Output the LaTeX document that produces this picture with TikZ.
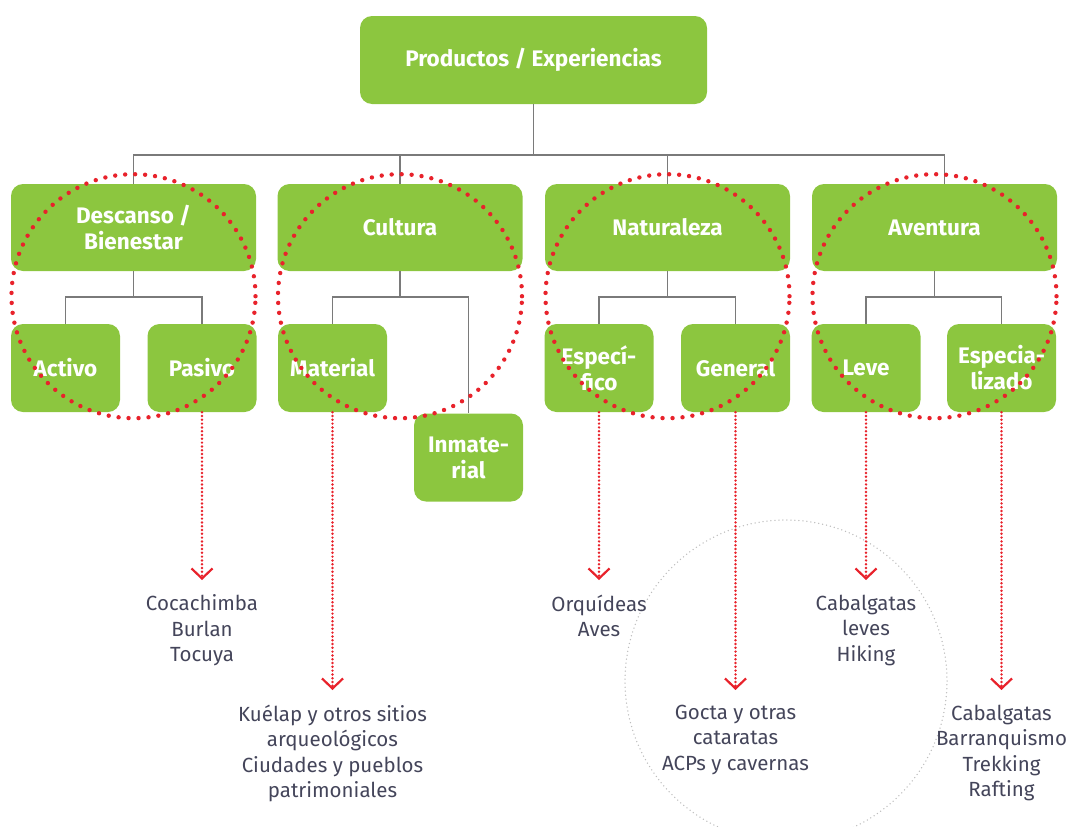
\documentclass[tikz,border=0pt]{standalone}
\usepackage{fontspec}
\setmainfont{Fira Sans}
\usepackage{xcolor}
\usetikzlibrary{arrows.meta}
\definecolor{boxgreen}{HTML}{8CC63F}
\definecolor{dotred}{HTML}{E8222B}
\definecolor{linegrey}{HTML}{7A7A7A}
\definecolor{ringgrey}{HTML}{BDBDBD}
\definecolor{itemtext}{HTML}{44455A}

\begin{document}
\begin{tikzpicture}[
  x=1pt, y=-1pt,
  box/.style={rectangle, rounded corners=12pt, fill=boxgreen, text=white, align=center, inner sep=0pt, font=\fontsize{22.5}{26}\selectfont\bfseries},
  topbox/.style={box, minimum width=347pt, minimum height=88pt},
  mainbox/.style={box, minimum width=245pt, minimum height=87pt},
  subbox/.style={box, minimum width=109pt, minimum height=88pt},
  treeline/.style={draw=linegrey, line width=1.4pt},
  redring/.style={draw=dotred, line width=4.4pt, line cap=round, dash pattern=on 0pt off 10pt},
  greyring/.style={draw=ringgrey, line width=1.5pt, line cap=round, dash pattern=on 0pt off 4pt},
  link/.style={draw=dotred, line width=2.7pt, line cap=round, dash pattern=on 0pt off 3.8pt, -{Straight Barb[length=10pt, width=21pt, line width=2.2pt]}},
  items/.style={align=center, text=itemtext, inner sep=0pt, outer ysep=15pt, anchor=north, font=\fontsize{20.5}{25.5}\selectfont}
]
\useasboundingbox (0,0) rectangle (1071,827);
\begin{scope}
  \clip (0,0) rectangle (1071,827);
  \draw[greyring] (786,681) circle[radius=161pt];
\end{scope}

\node[topbox] (prod) at (533.5,60) {Productos / Experiencias};
\node[mainbox] (desc) at (133.5,227.5) {Descanso /\\Bienestar};
\node[mainbox] (cult) at (400,227.5) {Cultura};
\node[mainbox] (natu) at (667.5,227.5) {Naturaleza};
\node[mainbox] (aven) at (934.5,227.5) {Aventura};

\node[subbox] (activo) at (65.5,368) {Activo};
\node[subbox] (pasivo) at (202,368) {Pasivo};
\node[subbox] (material) at (332.5,368) {Material};
\node[subbox] (inmaterial) at (468.5,457.5) {Inmate-\\rial};
\node[subbox] (especifico) at (599,368) {Especí-\\fico};
\node[subbox] (general) at (735.5,368) {General};
\node[subbox] (leve) at (866,368) {Leve};
\node[subbox] (especializado) at (1001.5,368) {Especia-\\lizado};

\node[items] (pasivoitems) at (202,580) {Cocachimba\\Burlan\\Tocuya};
\node[items] (materialitems) at (332.5,690) {Kuélap y otros sitios\\arqueológicos\\Ciudades y pueblos\\patrimoniales};
\node[items] (especificoitems) at (599,580) {Orquídeas\\Aves};
\node[items] (generalitems) at (735.5,690) {Gocta y otras\\cataratas\\ACPs y cavernas};
\node[items] (leveitems) at (866,580) {Cabalgatas\\leves\\Hiking};
\node[items] (especializadoitems) at (1001.5,690) {Cabalgatas\\Barranquismo\\Trekking\\Rafting};

\draw[treeline] (prod.south) -- ++(0,51);
\draw[treeline] (desc.north) -- ++(0,-29) -| ([xshift=10pt]aven.north);
\draw[treeline] (cult.north) -- ++(0,-29);
\draw[treeline] (natu.north) -- ++(0,-29);

\draw[treeline] (desc.south) -- ++(0,26);
\draw[treeline] (activo.north) -- ++(0,-27) -| (pasivo.north);
\draw[treeline] (cult.south) -- ++(0,26);
\draw[treeline] (material.north) -- ++(0,-27) -| (inmaterial.north);
\draw[treeline] (natu.south) -- ++(0,26);
\draw[treeline] (especifico.north) -- ++(0,-27) -| (general.north);
\draw[treeline] (aven.south) -- ++(0,26);
\draw[treeline] (leve.north) -- ++(0,-27) -| (especializado.north);

\draw[redring] ([yshift=-25pt]desc.south) circle[radius=122pt];
\draw[redring] ([yshift=-25pt]cult.south) circle[radius=122pt];
\draw[redring] ([yshift=-25pt]natu.south) circle[radius=122pt];
\draw[redring] ([yshift=-25pt]aven.south) circle[radius=122pt];

\draw[link] (pasivo) -- (pasivoitems);
\draw[link] (material) -- (materialitems);
\draw[link] (especifico) -- (especificoitems);
\draw[link] (general) -- (generalitems);
\draw[link] (leve) -- (leveitems);
\draw[link] (especializado) -- (especializadoitems);
\end{tikzpicture}
\end{document}
